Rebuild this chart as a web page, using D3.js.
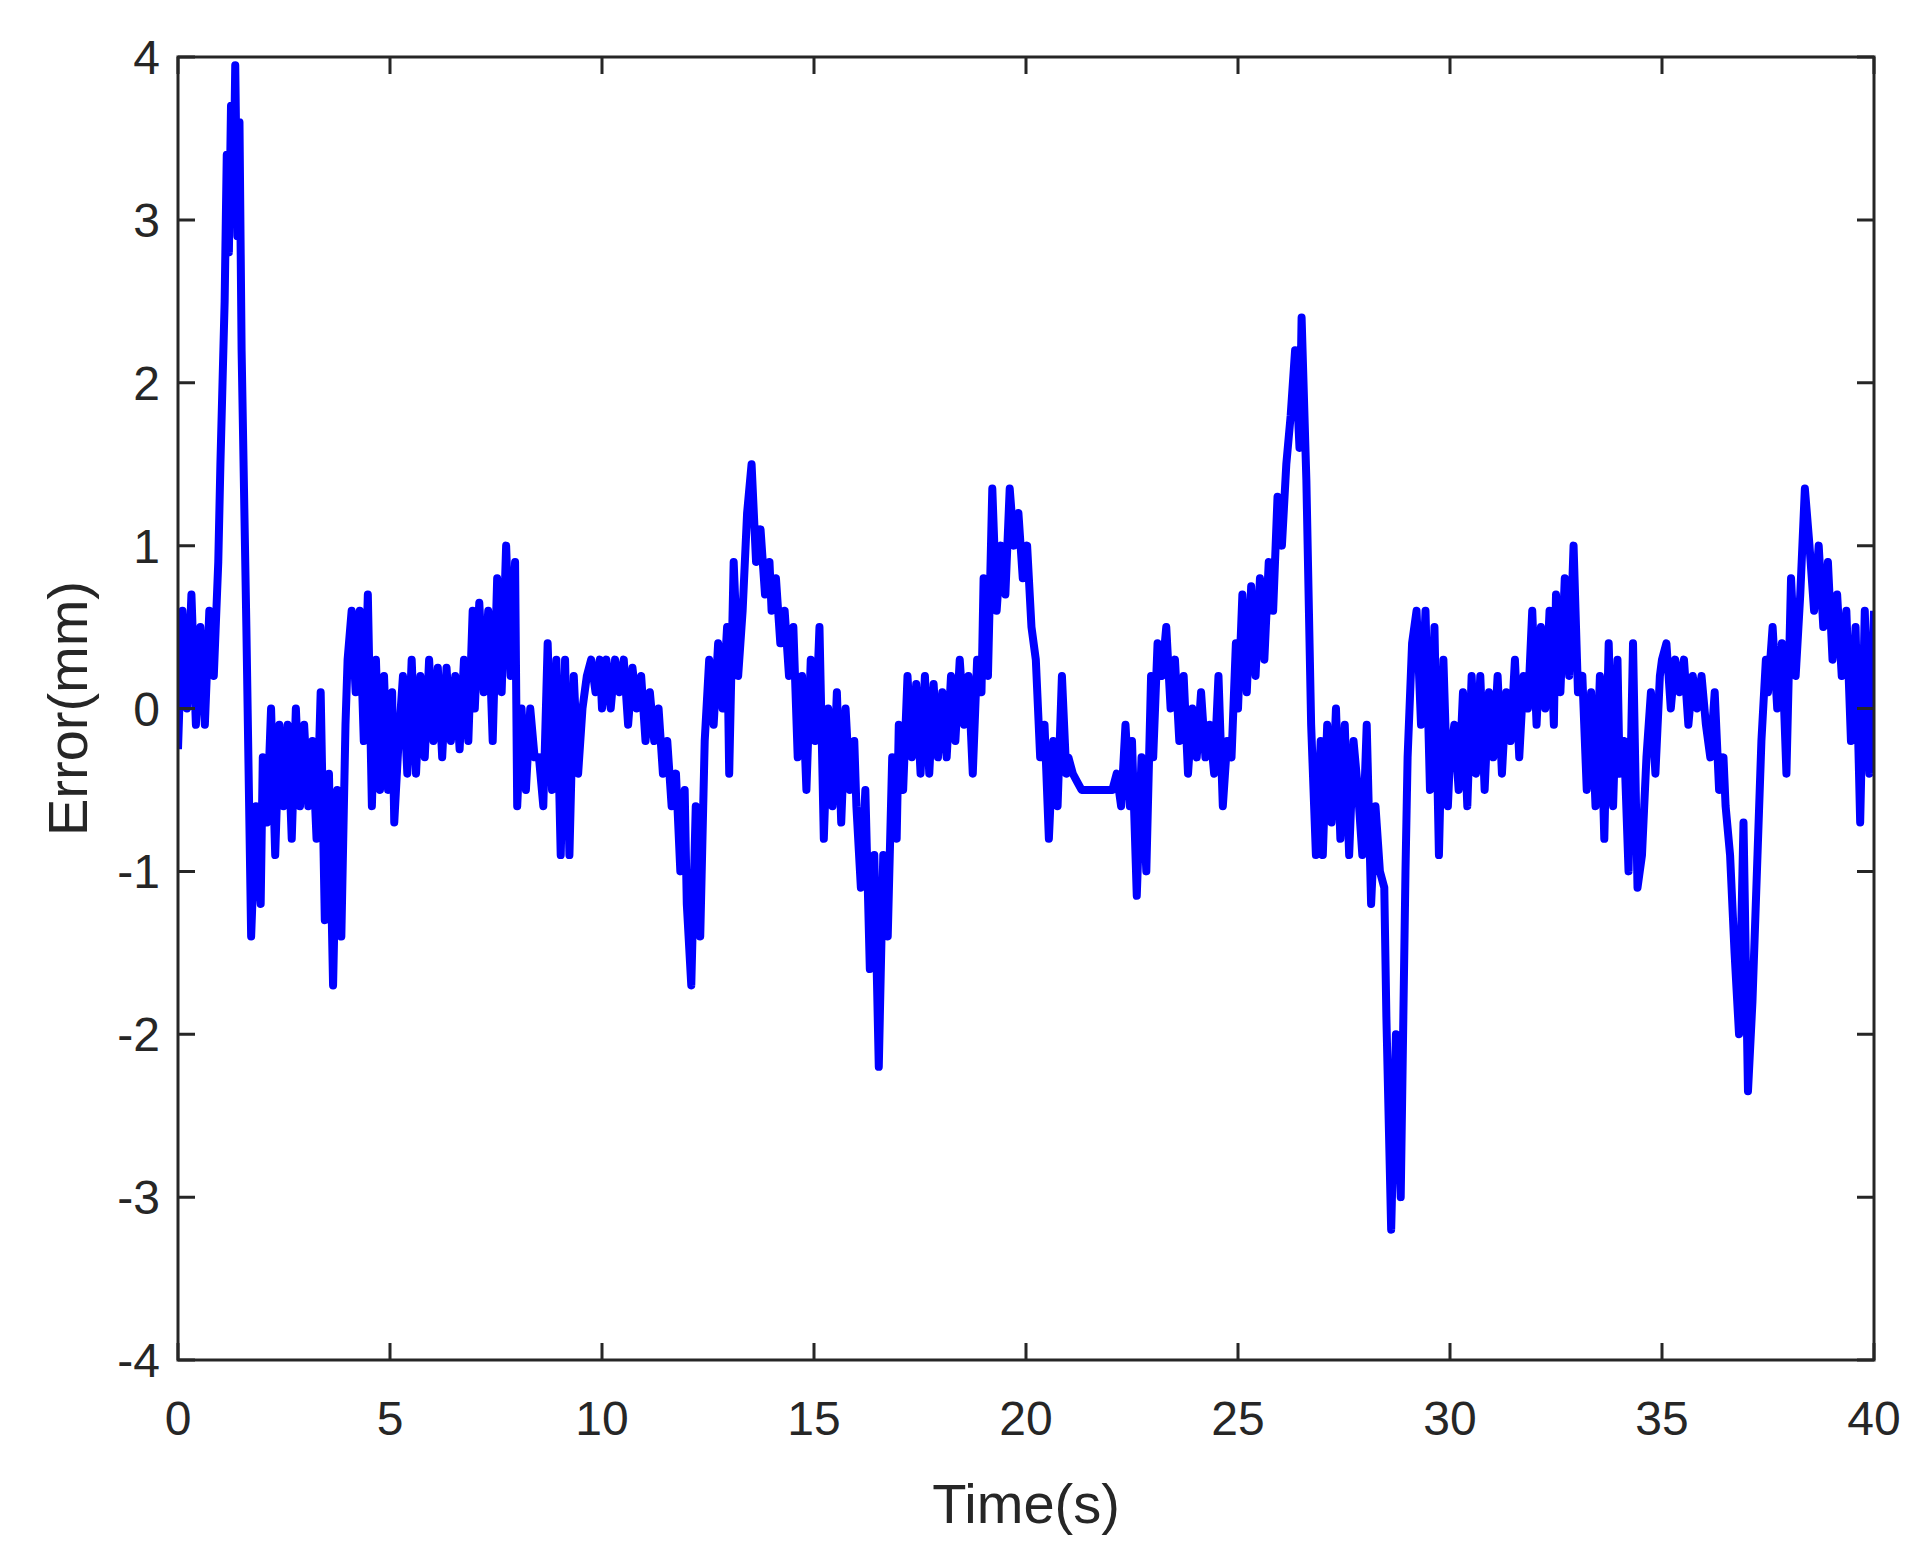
<!DOCTYPE html>
<html>
<head>
<meta charset="UTF-8">
<script src="https://cdn.jsdelivr.net/npm/d3@7"></script>
<style>
  body { margin: 0; background: #fff; }
  text { font-family: "Liberation Sans", Arial, sans-serif; fill: #262626; }
</style>
</head>
<body>
<div id="chart"></div>
<script>
// data, piecewise: each segment spans [start, end] with evenly spaced samples
var segStarts = [0, 1.0, 1.5, 2.0, 4.0, 5.1, 7.0, 8.0, 10.0, 12.0, 13.0, 14.0, 16.0, 17.0, 19.0, 21.0, 22.5, 23.0, 25.0, 26.5, 27.0, 28.5, 29.0, 30.0, 32.5, 34.0, 35.0, 36.5, 37.5];
var segEnds   = [0.95, 1.45, 1.95, 3.95, 5.05, 6.95, 7.95, 9.95, 11.95, 12.95, 13.95, 15.95, 16.95, 18.95, 20.95, 22.45, 22.95, 24.95, 26.45, 26.95, 28.45, 28.95, 29.95, 32.45, 33.95, 34.95, 36.45, 37.45, 40.0];
var segValues = [
  [-0.25, 0.6, 0, 0.7, -0.1, 0.5, -0.1, 0.6, 0.2, 0.9],
  [1.5, 2.0, 2.5, 3.4, 2.8, 3.7, 3.0, 3.95, 2.9, 3.6],
  [2.2, 0.5, -1.4, -0.6, -1.2],
  [-0.3, -0.7, 0, -0.9, -0.1, -0.6, -0.1, -0.8, 0, -0.6, -0.1, -0.6, -0.2, -0.8, 0.1, -1.3, -0.4, -1.7, -0.5, -1.4, -0.1],
  [0.3, 0.6, 0.1, 0.6, -0.2, 0.7, -0.6, 0.3, -0.5, 0.2, -0.5, 0.1],
  [-0.7, -0.2, 0.2, -0.4, 0.3, -0.4, 0.2, -0.3, 0.3, -0.2, 0.25, -0.3, 0.25, -0.2, 0.2, -0.25, 0.3, -0.2, 0.6],
  [0, 0.65, 0.1, 0.6, -0.2, 0.8, 0.1, 1.0, 0.2, 0.9],
  [-0.6, 0, -0.5, 0, -0.3, -0.3, -0.6, 0.4, -0.5, 0.3, -0.9, 0.3, -0.9, 0.2, -0.4, 0, 0.2, 0.3, 0.1, 0.3],
  [0, 0.3, 0, 0.3, 0.1, 0.3, -0.1, 0.25, 0, 0.2, -0.2, 0.1, -0.2, 0, -0.4, -0.2, -0.6, -0.4, -1.0, -0.5],
  [-1.2, -1.7, -0.6, -1.4, -0.2, 0.3, -0.1, 0.4, 0, 0.5],
  [-0.4, 0.9, 0.2, 0.6, 1.2, 1.5, 0.9, 1.1, 0.7, 0.9],
  [0.6, 0.8, 0.4, 0.6, 0.2, 0.5, -0.3, 0.2, -0.5, 0.3, -0.2, 0.5, -0.8, 0, -0.6, 0.1, -0.7, 0, -0.5, -0.2],
  [-0.6, -1.1, -0.5, -1.6, -0.9, -2.2, -0.9, -1.4, -0.3, -0.8],
  [-0.1, -0.5, 0.2, -0.3, 0.15, -0.4, 0.2, -0.4, 0.15, -0.3, 0.1, -0.3, 0.2, -0.2, 0.3, -0.1, 0.2, -0.4, 0.3, 0.1],
  [0.8, 0.2, 1.35, 0.6, 1.0, 0.7, 1.35, 1.0, 1.2, 0.8, 1.0, 0.5, 0.3, -0.3, -0.1, -0.8, -0.2, -0.6, 0.2, -0.4],
  [-0.3, -0.4, -0.45, -0.5, -0.5, -0.5, -0.5, -0.5, -0.5, -0.5, -0.5, -0.4, -0.6, -0.1, -0.6],
  [-0.2, -1.15, -0.3, -1.0, 0.2],
  [-0.3, 0.4, 0.2, 0.5, 0, 0.3, -0.2, 0.2, -0.4, 0, -0.3, 0.1, -0.3, -0.1, -0.4, 0.2, -0.6, -0.2, -0.3, 0.4],
  [0, 0.7, 0.1, 0.75, 0.2, 0.8, 0.3, 0.9, 0.6, 1.3, 1.0, 1.5, 1.8, 2.2, 1.6],
  [2.4, 1.4, -0.1, -0.9, -0.2],
  [-0.9, -0.1, -0.7, 0, -0.8, -0.1, -0.9, -0.2, -0.5, -0.9, -0.1, -1.2, -0.6, -1.0, -1.1],
  [-1.9, -3.2, -2.0, -3.0, -1.0],
  [-0.3, 0.4, 0.6, -0.1, 0.6, -0.5, 0.5, -0.9, 0.3, -0.6],
  [-0.3, -0.1, -0.5, 0.1, -0.6, 0.2, -0.4, 0.2, -0.5, 0.1, -0.3, 0.2, -0.4, 0.1, -0.2, 0.3, -0.3, 0.2, 0, 0.6, -0.1, 0.5, 0, 0.6, -0.1],
  [0.7, 0.1, 0.8, 0.2, 1.0, 0.1, 0.2, -0.5, 0.1, -0.6, 0.2, -0.8, 0.4, -0.6, 0.3],
  [-0.4, -0.2, -1.0, 0.4, -1.1, -0.9, -0.3, 0.1, -0.4, 0.2],
  [0.3, 0.4, 0, 0.3, 0.1, 0.3, -0.1, 0.2, 0, 0.2, -0.1, -0.3, 0.1, -0.5, -0.3],
  [-0.6, -0.9, -1.5, -2.0, -0.7, -2.35, -1.8, -1.0, -0.2, 0.3],
  [0.1, 0.5, 0, 0.4, -0.4, 0.8, 0.2, 0.7, 1.35, 1.0, 0.6, 1.0, 0.5, 0.9, 0.3, 0.7, 0.2, 0.6, -0.2, 0.5, -0.7, 0.6, -0.4, 0.6]
];
var xTicks = [0, 5, 10, 15, 20, 25, 30, 35, 40];
var yTicks = [-4, -3, -2, -1, 0, 1, 2, 3, 4];

var points = [];
segValues.forEach(function(vals, s){
  var n = vals.length;
  vals.forEach(function(v, i){
    var t = n > 1 ? segStarts[s] + (segEnds[s] - segStarts[s]) * i / (n - 1) : segStarts[s];
    points.push([t, v]);
  });
});

var W = 1925, H = 1554;
var mLeft = 178, mRight = 1874, mTop = 57, mBottom = 1360;

var svg = d3.select("#chart").append("svg").attr("width", W).attr("height", H);

var x = d3.scaleLinear().domain([0, 40]).range([mLeft, mRight]);
var y = d3.scaleLinear().domain([-4, 4]).range([mBottom, mTop]);

svg.append("defs").append("clipPath").attr("id", "clip")
  .append("rect").attr("x", mLeft).attr("y", mTop).attr("width", mRight - mLeft).attr("height", mBottom - mTop);

svg.append("path")
  .datum(points)
  .attr("clip-path", "url(#clip)")
  .attr("fill", "none")
  .attr("stroke", "#0000ff")
  .attr("stroke-width", 8)
  .attr("stroke-linejoin", "round")
  .attr("d", d3.line().x(function(d){ return x(d[0]); }).y(function(d){ return y(d[1]); }));

var tickLen = 17;
var axisCol = "#262626";

svg.selectAll(".xt").data(xTicks).enter().append("path")
  .attr("d", function(d){ return "M" + x(d) + "," + mBottom + "v" + (-tickLen) + "M" + x(d) + "," + mTop + "v" + tickLen; })
  .attr("stroke", axisCol).attr("stroke-width", 3);
svg.selectAll(".yt").data(yTicks).enter().append("path")
  .attr("d", function(d){ return "M" + mLeft + "," + y(d) + "h" + tickLen + "M" + mRight + "," + y(d) + "h" + (-tickLen); })
  .attr("stroke", axisCol).attr("stroke-width", 3);

svg.append("rect").attr("x", mLeft).attr("y", mTop).attr("width", mRight - mLeft).attr("height", mBottom - mTop)
  .attr("fill", "none").attr("stroke", axisCol).attr("stroke-width", 3);

svg.selectAll(".xl").data(xTicks).enter().append("text")
  .attr("x", function(d){ return x(d); }).attr("y", mBottom + 75)
  .attr("text-anchor", "middle").attr("font-size", 48)
  .text(function(d){ return d; });
svg.selectAll(".yl").data(yTicks).enter().append("text")
  .attr("x", mLeft - 18).attr("y", function(d){ return y(d) + 17; })
  .attr("text-anchor", "end").attr("font-size", 48)
  .text(function(d){ return d; });

svg.append("text").attr("x", (mLeft + mRight) / 2).attr("y", mBottom + 163)
  .attr("text-anchor", "middle").attr("font-size", 56).text("Time(s)");
svg.append("text").attr("transform", "translate(87," + ((mTop + mBottom) / 2) + ") rotate(-90)")
  .attr("text-anchor", "middle").attr("font-size", 56).text("Error(mm)");
</script>
</body>
</html>
